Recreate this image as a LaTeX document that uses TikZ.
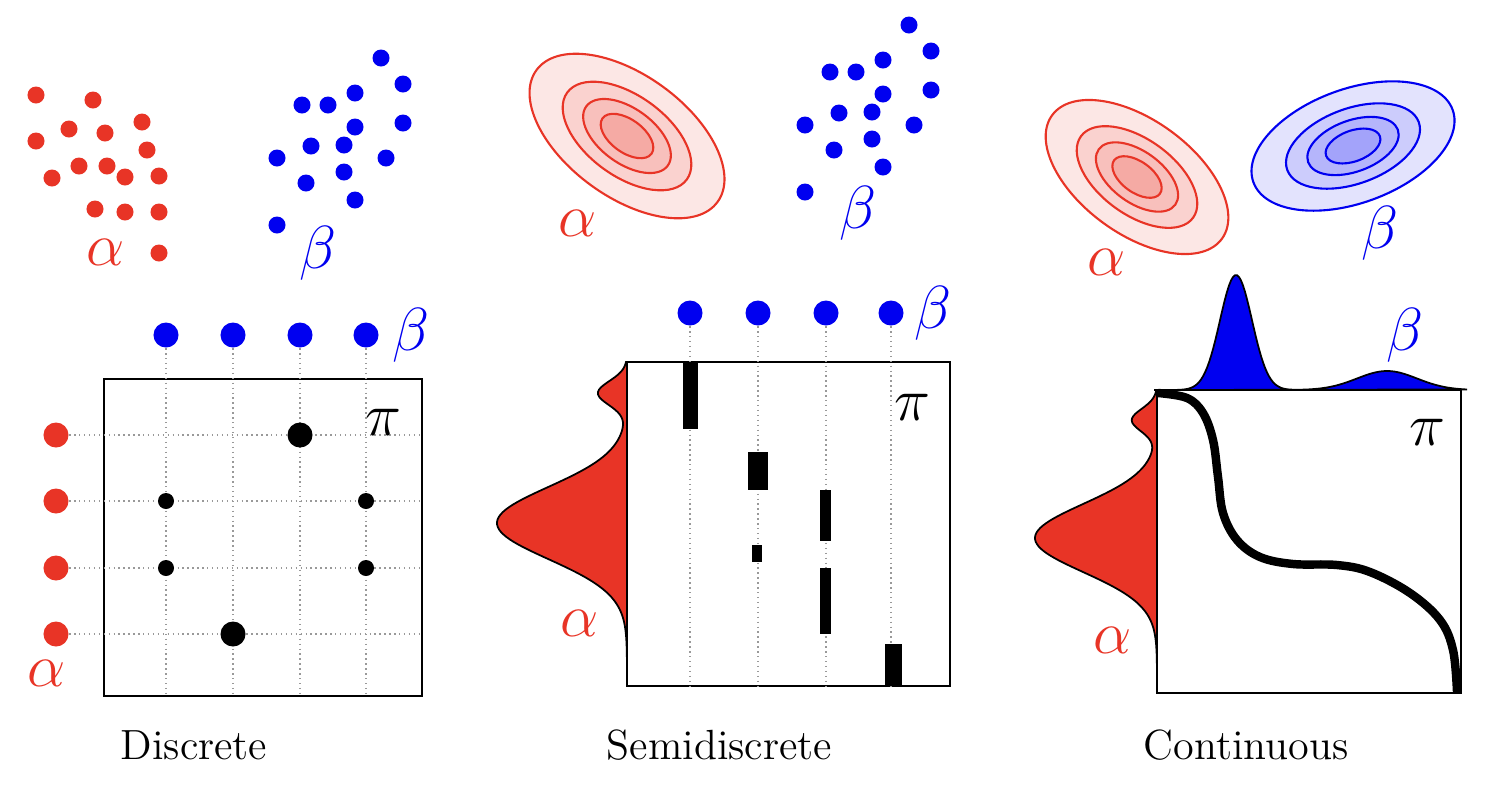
\documentclass[tikz,border=0pt]{standalone}
\usepackage{amsmath, amssymb}
\usepackage{tikz}

\definecolor{dotred}{RGB}{232,52,38}
\definecolor{dotblue}{RGB}{0,0,240}

\begin{document}
\begin{tikzpicture}[x=0.01cm, y=0.01cm,
    rdot/.style={circle, fill=dotred, inner sep=0pt, minimum size=0.17cm},
    bdot/.style={circle, fill=dotblue, inner sep=0pt, minimum size=0.17cm},
    rbig/.style={rdot, minimum size=0.25cm},
    bbig/.style={bdot, minimum size=0.25cm},
    mass/.style={circle, fill=black, inner sep=0pt, minimum size=#1},
    panel/.style={draw, line width=0.7pt, inner sep=0pt},
    guide/.style={densely dotted, gray!80, line width=0.4pt},
    lab/.style={font=\fontsize{18}{20}\selectfont},
    panelname/.style={font=\fontsize{12}{14}\selectfont, anchor=base}]
      \useasboundingbox (0,0) rectangle (1488,-790);

      \foreach \xx/\yy [count=\i] in {36/95, 93/100, 69/129, 105/133, 142/122, 36/141, 147/150, 52/178,
                                      79/166, 107/166, 125/177, 159/176, 95/209, 125/212, 159/212, 159/253}
        \node[rdot] (ra\i) at (\xx,-\yy) {};
      \foreach \p/\dx/\dy in {l/0/0, m/528/33} {
        \foreach \xx/\yy [count=\i] in {381/58, 403/84, 355/93, 302/105, 328/105, 355/127, 403/123, 311/146,
                                        344/145, 277/158, 386/158, 344/172, 306/183, 355/200, 277/225}
          \node[bdot] (\p b\i) at (\xx+\dx,-\yy+\dy) {};
      }
      \node[lab, text=dotred]  (alpha1) at (106,-252) {$\alpha$};
      \node[lab, text=dotblue] (beta1)  at (318,-253) {$\beta$};

      \begin{scope}[shift={(627,-136)}, rotate=-36]
        \foreach \s/\f in {1/12, 0.66/22, 0.45/31, 0.27/42}
          \draw[dotred, line width=0.6pt, fill=dotred!\f] (0,0) ellipse [x radius=112*\s, y radius=61*\s];
      \end{scope}
      \node[lab, text=dotred]  (alpha2) at (578,-223) {$\alpha$};
      \node[lab, text=dotblue] (beta2)  at (858,-213) {$\beta$};

      \begin{scope}[shift={(1137,-177)}, rotate=-36]
        \foreach \s/\f in {1/12, 0.66/22, 0.45/31, 0.27/42}
          \draw[dotred, line width=0.6pt, fill=dotred!\f] (0,0) ellipse [x radius=105*\s, y radius=57*\s];
      \end{scope}
      \begin{scope}[shift={(1353,-146)}, rotate=20]
        \foreach \s/\f in {1/11, 0.66/20, 0.45/29, 0.27/36}
          \draw[dotblue, line width=0.6pt, fill=dotblue!\f] (0,0) ellipse [x radius=106*\s, y radius=57*\s];
      \end{scope}
      \node[lab, text=dotred]  (alpha3) at (1107,-262) {$\alpha$};
      \node[lab, text=dotblue] (beta3)  at (1380,-233) {$\beta$};

      \node[panel, minimum width=3.18cm, minimum height=3.17cm] (P1) at (263,-537.5) {};
      \foreach \xx [count=\i] in {166,233,300,366} {
        \node[bbig] (t\i) at (\xx,-335) {};
        \draw[guide] (t\i) -- (t\i |- P1.south);
      }
      \foreach \yy [count=\i] in {435,501,568,634} {
        \node[rbig] (s\i) at (56,-\yy) {};
        \draw[guide] (s\i) -- (s\i -| P1.east);
      }
      \foreach \i/\j/\w in {1/3/0.25cm, 2/1/0.16cm, 2/4/0.16cm, 3/1/0.16cm, 3/4/0.16cm, 4/2/0.25cm}
        \node[mass=\w] (m\i\j) at (t\j |- s\i) {};
      \node[lab, text=dotblue] (beta4)  at (411,-335) {$\beta$};
      \node[lab, text=dotred]  (alpha4) at (47,-673)  {$\alpha$};
      \node[lab]               (pi1)    at (383,-422) {$\pi$};
      \node[panelname]         (name1)  at (194,-759) {Discrete};

      \draw[fill=dotred, line width=0.5pt] (627,-362) -- plot[domain=0:300, samples=121]
        ({627-29*exp(-0.5*((\x-31)/12)^2)-130*exp(-0.5*((\x-161)/36)^2)}, {-362-\x}) -- cycle;
      \node[panel, minimum width=3.23cm, minimum height=3.24cm] (P2) at (788.5,-524) {};
      \foreach \xx [count=\i] in {690,758,826,891} {
        \node[bbig] (u\i) at (\xx,-313) {};
        \draw[guide] (u\i) -- (u\i |- P2.south);
      }
      \foreach \xa/\ya/\xb/\yb in {683/363/698/429, 748/452/768/490, 820/490/831/541,
                                   752/545/762/562, 820/568/831/634, 885/644/902/686}
        \fill (\xa,-\ya) rectangle (\xb,-\yb);
      \node[lab, text=dotblue] (beta5)  at (933,-313) {$\beta$};
      \node[lab, text=dotred]  (alpha5) at (580,-623) {$\alpha$};
      \node[lab]               (pi2)    at (912,-407) {$\pi$};
      \node[panelname]         (name2)  at (719.5,-759) {Semidiscrete};

      \draw[fill=dotred, line width=0.5pt] (1157,-390) -- plot[domain=0:280, samples=121]
        ({1157-25*exp(-0.5*((\x-30)/11.3)^2)-122*exp(-0.5*((\x-148)/34)^2)}, {-390-\x}) -- cycle;
      \draw[fill=dotblue, line width=0.5pt] (1155,-390) -- plot[domain=1155:1467, samples=157]
        (\x, {-390+115*exp(-0.5*((\x-1236)/16)^2)+19*exp(-0.5*((\x-1387)/30)^2)}) -- cycle;
      \node[panel, minimum width=3.04cm, minimum height=3.03cm] (P3) at (1309,-541.5) {};
      \draw[line width=2.4pt] plot[smooth, tension=0.6] coordinates {(1158,-393) (1187,-398) (1203,-413)
        (1213,-440) (1218,-477) (1223,-513) (1237,-540) (1260,-557) (1293,-564) (1337,-565)
        (1370,-572) (1410,-593) (1440,-620) (1453,-650) (1457,-692)};
      \node[lab, text=dotblue] (beta6)  at (1405,-335) {$\beta$};
      \node[lab, text=dotred]  (alpha6) at (1113,-640) {$\alpha$};
      \node[lab]               (pi3)    at (1427,-432) {$\pi$};
      \node[panelname]         (name3)  at (1246,-759) {Continuous};
    \end{tikzpicture}
\end{document}
